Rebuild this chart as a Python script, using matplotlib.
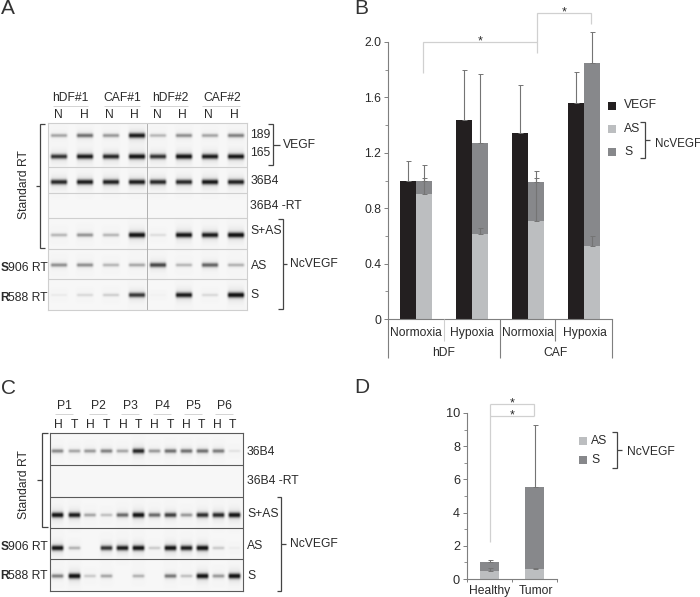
import numpy as np
import matplotlib
matplotlib.use("Agg")
import matplotlib.pyplot as plt

plt.rcParams['font.family'] = ['Liberation Sans', 'DejaVu Sans']
W, H = 700, 597
DARK, MID, LIGHT = '#231f20', '#87888b', '#bcbec0'
AXC = '#7f7f7f'; TXT = '#2a2a2a'; SIG = '#d0d0d0'; FS = 8.7

# ---- data ----
groups_b = ['Normoxia', 'Hypoxia', 'Normoxia', 'Hypoxia']
vegf = [1.0, 1.44, 1.34, 1.56]
vegf_top = [1.14, 1.80, 1.69, 1.78]
as_b = [0.905, 0.615, 0.71, 0.53]
as_b_top = [1.02, 0.66, 1.02, 0.60]
s_b = [0.095, 0.655, 0.28, 1.32]
total_b_top = [1.11, 1.77, 1.07, 2.07]

cats_d = ['Healthy', 'Tumor']
as_d = [0.5, 0.6]
as_d_top = [0.67, 0.67]
s_d = [0.5, 4.95]
total_d_top = [1.15, 9.25]

lanes_a = ['N', 'H'] * 4
samples_a = ['hDF#1', 'CAF#1', 'hDF#2', 'CAF#2']
band_189 = [.33, .55, .38, .90, .26, .42, .33, .48]
band_165 = [.80, .90, .85, .95, .80, .95, .90, .92]
band_36b4_a = [.85, .90, .88, .90, .85, .85, .92, .88]
band_sas_a = [.26, .40, .26, .96, .10, .93, .90, .97]
band_as_a = [.42, .42, .26, .32, .72, .26, .60, .28]
band_s_a = [.05, .12, .16, .78, .02, .90, .12, .97]

lanes_c = ['H', 'T'] * 6
samples_c = ['P1', 'P2', 'P3', 'P4', 'P5', 'P6']
band_36b4_c = [.45, .33, .38, .48, .33, .85, .38, .55, .55, .55, .50, .08]
band_sas_c = [.95, .90, .33, .22, .58, .95, .58, .75, .38, .82, .85, .95]
band_as_c = [.95, .28, .0, .80, .90, .95, .18, .95, .90, .97, .18, .04]
band_s_c = [.48, .97, .18, .33, .0, .28, .0, .52, .22, .95, .38, .97]

# ---- helpers (pixel coordinates on a full-figure overlay) ----
fig = plt.figure(figsize=(W / 100, H / 100), dpi=100, facecolor='white')
ov = fig.add_axes([0, 0, 1, 1], zorder=5)
ov.set_xlim(0, W); ov.set_ylim(H, 0); ov.axis('off'); ov.patch.set_alpha(0)

def T(x, y, s, ha='left', fs=FS, **kw):
    ov.text(x, y, s, ha=ha, va='center', fontsize=fs, color=kw.pop('color', TXT), **kw)

def L(xs, ys, c='#444444', lw=0.9):
    ov.plot(xs, ys, color=c, lw=lw, solid_capstyle='butt', solid_joinstyle='miter')

def axes_px(x0, y0, x1, y1):
    return fig.add_axes([x0 / W, 1 - y1 / H, (x1 - x0) / W, (y1 - y0) / H])

def bracket_r(x0, x1, y0, y1, ytick, xt):
    L([x0, x1, x1, x0], [y0, y0, y1, y1]); L([x1, xt], [ytick, ytick])

def bracket_l(x0, x1, y0, y1, ytick, xt):
    L([x1, x0, x0, x1], [y0, y0, y1, y1]); L([x0, xt], [ytick, ytick])

def gel(x0, x1, y0, y1, row_bounds, rows, lane_x, band_w, band_h, ink, edge, edge_lw):
    """rows: list of (band_y, intensities)."""
    ax = axes_px(x0, y0, x1, y1)
    xs = np.arange(x0, x1, 0.5) + .25
    ys = np.arange(y0, y1, 0.5) + .25
    img = np.zeros((len(ys), len(xs)))
    for by, vals in rows:
        for lx, v in zip(lane_x, vals):
            px = np.clip((band_w / 2 + 1.5 - np.abs(xs - lx)) / 3.0, 0, 1) ** 1.3
            sig = band_h * (0.6 + 0.65 * v)
            py = np.exp(-((ys - by) / sig) ** 2)
            halo = 0.10 * v * np.exp(-((ys - by) / (sig * 2.8)) ** 2)
            img += np.outer(py * v + halo, px)
    gray = np.clip(0.965 - ink * np.clip(img, 0, 1.0), 0, 1)
    ax.imshow(gray, cmap='gray', vmin=0, vmax=1, aspect='auto',
              extent=(x0, x1, y1, y0), interpolation='bilinear')
    ax.set_xticks([]); ax.set_yticks([])
    for s in ax.spines.values():
        s.set_color(edge); s.set_linewidth(edge_lw)
    for b in row_bounds:
        ax.axhline(b, color=edge, lw=edge_lw)
    return ax

def unclip(container):
    for art in container.get_children():
        art.set_clip_on(False)

# ---- panel letters ----
for x, y, s in [(1, 9, 'A'), (354, 9, 'B'), (1, 388, 'C'), (354, 387.5, 'D')]:
    T(x, y, s, fs=15, color='#333333')

# ---- panel A ----
label_a_x = [58, 84, 109, 134, 157, 182, 208, 234]
band_a_x = [59, 85, 111, 137, 158, 184, 210, 236]
ax = gel(48, 247, 123, 310, [167, 193, 218, 249, 279],
         [(135.5, band_189), (156.5, band_165), (182, band_36b4_a),
          (235, band_sas_a), (265, band_as_a), (295, band_s_a)],
         band_a_x, 16.5, 2.1, 0.88, '#cfcfcf', 0.8)
ax.axvline(147, color='#b0b0b0', lw=0.7)
for s, cx, (u0, u1) in zip(samples_a, [70, 122, 170, 222],
                           [(53, 88), (104, 140), (150, 188), (202, 240)]):
    T(cx, 98, s, ha='center')
    L([u0, u1], [105.5, 105.5], c='#d4d4d4', lw=0.7)
for s, x in zip(lanes_a, label_a_x):
    T(x, 114.5, s, ha='center')
for y, s in [(135, '189'), (153, '165'), (181, '36B4'), (206, '36B4 -RT'),
             (231, 'S+AS'), (266, 'AS'), (295, 'S')]:
    T(250.5, y, s)
bracket_r(268, 273, 124, 165, 145, 280); T(283, 145, 'VEGF')
bracket_r(278, 283, 219, 309, 264, 287); T(290, 264, 'NcVEGF')
bracket_l(40, 45, 124, 248, 186, 36)
T(24, 185, 'Standard RT', ha='center', rotation=90)
for y, n in [(268, ('S', '906 RT')), (298, ('R', '588 RT'))]:
    T(0.5, y, n[0], fontweight='bold')
    T(8, y, n[1])

# ---- panel C ----
label_c_x = [58, 74, 90.5, 106, 123, 138, 154, 170, 186, 201, 217, 232]
band_c_x = [57.5, 74.5, 90, 106.5, 122.5, 138.5, 154.5, 170.5, 186.5, 202.5, 218.5, 234.5]
gel(50, 243, 433, 591, [465, 497, 528, 559],
    [(451, band_36b4_c), (515, band_sas_c), (548, band_as_c), (576, band_s_c)],
    band_c_x, 12, 2.1, 0.88, '#5a5a5a', 0.8)
for s, cx in zip(samples_c, [64, 98, 130, 162, 193, 224]):
    T(cx, 406, s, ha='center')
    L([cx - 9, cx + 9], [413.5, 413.5], c='#d4d4d4', lw=0.7)
for s, x in zip(lanes_c, label_c_x):
    T(x, 424.5, s, ha='center')
for y, s in [(452, '36B4'), (481, '36B4 -RT'), (514, 'S+AS'), (546, 'AS'), (576, 'S')]:
    T(247, y, s)
bracket_r(277, 281, 497, 591, 544, 286); T(290, 544, 'NcVEGF')
bracket_l(42, 48, 433, 527, 480, 37)
T(24, 485, 'Standard RT', ha='center', rotation=90)
for y, n in [(547, ('S', '906 RT')), (576, ('R', '588 RT'))]:
    T(0.5, y, n[0], fontweight='bold')
    T(8, y, n[1])

# ---- panel B ----
axb = axes_px(388, 42, 612, 319)
axb.patch.set_alpha(0)
x = np.arange(len(groups_b))
bw = 0.29
axb.bar(x - bw / 2, vegf, bw, color=DARK)
axb.bar(x + bw / 2, as_b, bw, color=LIGHT)
axb.bar(x + bw / 2, s_b, bw, bottom=as_b, color=MID)
ek = dict(fmt='none', ecolor='#747474', elinewidth=0.8, capsize=1.8, capthick=0.7)
unclip(axb.errorbar(x - bw / 2, vegf, yerr=[np.zeros(4), np.subtract(vegf_top, vegf)], **ek))
unclip(axb.errorbar(x + bw / 2, as_b, yerr=[np.zeros(4), np.subtract(as_b_top, as_b)], **ek))
tot = np.add(as_b, s_b)
unclip(axb.errorbar(x + bw / 2, tot, yerr=[np.zeros(4), np.subtract(total_b_top, tot)], **ek))
axb.set_xlim(-0.5, 3.5); axb.set_ylim(0, 2.0)
axb.set_yticks(np.arange(0, 2.01, 0.4), ['0', '0.4', '0.8', '1.2', '1.6', '2.0'], fontsize=FS, color=TXT)
axb.set_yticks(np.arange(0, 2.01, 0.2), minor=True)
axb.set_xticks([])
for s in ['top', 'right']:
    axb.spines[s].set_visible(False)
for s in ['left', 'bottom']:
    axb.spines[s].set_color(AXC); axb.spines[s].set_linewidth(0.8)
axb.tick_params(axis='y', which='major', length=3, width=0.7, color=AXC, pad=2)
axb.tick_params(axis='y', which='minor', length=2, width=0.6, color=AXC)
for s, cx in zip(groups_b, [416, 472, 528, 585]):
    T(cx, 333, s, ha='center')
for cx, s in [(444, 'hDF'), (555, 'CAF')]:
    T(cx, 353, s, ha='center')
for px_x, yb, c in [(388, 358, AXC), (444, 341, SIG), (499.5, 358, AXC), (555, 341, AXC), (612, 358, AXC)]:
    L([px_x, px_x], [319, yb], c=c, lw=0.8)
L([423, 423, 537, 537], [73, 41.5, 41.5, 53], c=SIG, lw=0.9)
L([537, 537, 591, 591], [41.5, 12.5, 12.5, 24], c=SIG, lw=0.9)
T(480, 41, '*', ha='center', fs=9)
T(564, 12.5, '*', ha='center', fs=9)
for y, c, s in [(105.5, DARK, 'VEGF'), (129, LIGHT, 'AS'), (152, MID, 'S')]:
    ov.scatter([611.7], [y], marker='s', s=34, color=c, linewidths=0)
    T(624, y, s)
bracket_r(640, 645, 122, 158, 140, 650); T(655, 144, 'NcVEGF', fs=8.4)

# ---- panel D ----
axd = axes_px(467, 413, 557, 579)
axd.patch.set_alpha(0)
x = np.arange(len(cats_d))
bw = 0.41
axd.bar(x, as_d, bw, color=LIGHT)
axd.bar(x, s_d, bw, bottom=as_d, color=MID)
axd.errorbar(x, as_d, yerr=[np.zeros(2), np.subtract(as_d_top, as_d)], **ek)
tot = np.add(as_d, s_d)
axd.errorbar(x, tot, yerr=[np.zeros(2), np.subtract(total_d_top, tot)], **ek)
axd.set_xlim(-0.5, 1.5); axd.set_ylim(0, 10)
axd.set_yticks(np.arange(0, 11, 2), [str(v) for v in range(0, 11, 2)], fontsize=FS + 0.5, color=TXT)
axd.set_yticks(np.arange(0, 11, 1), minor=True)
axd.set_xticks([-0.5, 0.5, 1.5], ['', '', ''])
for s in ['top', 'right']:
    axd.spines[s].set_visible(False)
for s in ['left', 'bottom']:
    axd.spines[s].set_color(AXC); axd.spines[s].set_linewidth(0.8)
axd.tick_params(axis='y', which='major', length=3, width=0.7, color=AXC, pad=2)
axd.tick_params(axis='y', which='minor', length=2, width=0.6, color=AXC)
axd.tick_params(axis='x', length=2, width=0.7, color=AXC)
for s, cx in zip(cats_d, [490, 535.5]):
    T(cx, 591, s, ha='center')
L([489.5, 489.5], [542, 403.5], c=SIG, lw=0.9)
L([489.5, 534, 534], [403.5, 403.5, 415.5], c=SIG, lw=0.9)
L([489.5, 534], [415.5, 415.5], c=SIG, lw=0.9)
T(512, 403, '*', ha='center', fs=9)
T(512, 415, '*', ha='center', fs=9)
for y, c, s in [(441, LIGHT, 'AS'), (460, MID, 'S')]:
    ov.scatter([582.7], [y], marker='s', s=34, color=c, linewidths=0)
    T(591, y, s)
bracket_r(612, 616.5, 431.5, 468, 450, 621.5); T(626.5, 452, 'NcVEGF')

fig.savefig('out.png', dpi=100)
